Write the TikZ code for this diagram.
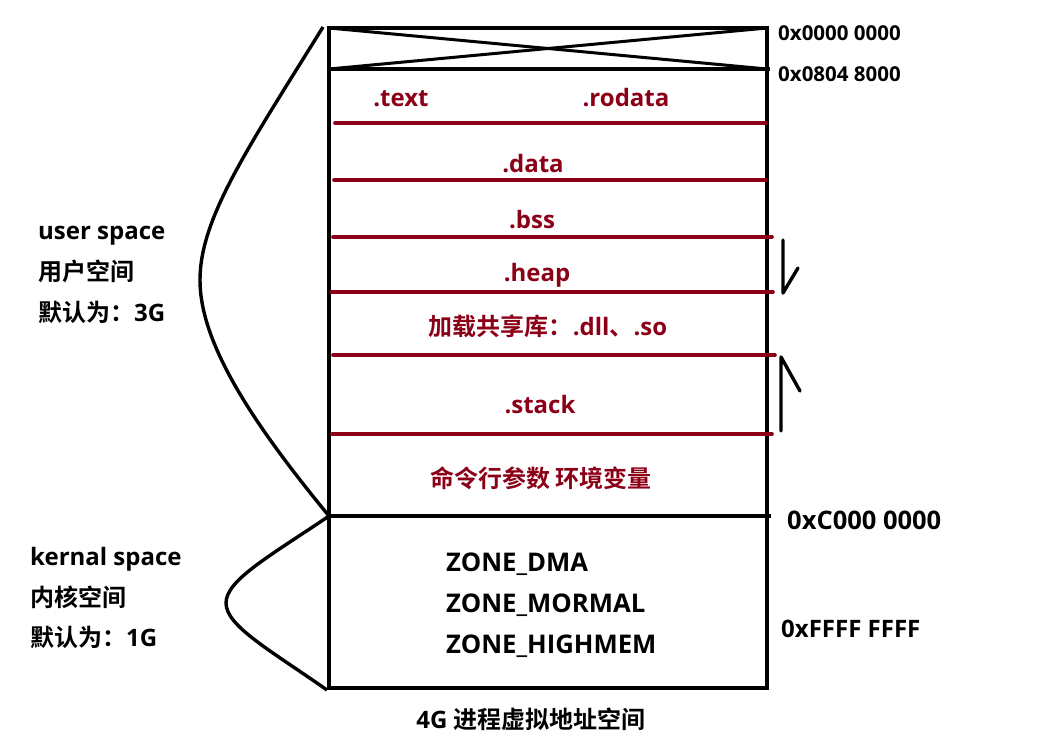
\documentclass[tikz,border=0pt]{standalone}
\usepackage{fontspec}
\setmainfont{Open Sans}
\newfontfamily\cjk[BoldFont={Noto Sans CJK SC Bold}]{Noto Sans CJK SC}
\definecolor{segred}{HTML}{8B0016}
\begin{document}
\begin{tikzpicture}[x=1pt,y=-1pt,
  blk/.style={line width=3.6pt,black},
  seg/.style={line width=3.6pt,segred,line cap=round},
  curve/.style={line width=3.4pt,black},
  redlbl/.style={text=segred,font=\bfseries\fontsize{24}{26}\selectfont,inner sep=0pt,anchor=base},
  blklbl/.style={text=black,font=\bfseries\fontsize{24}{26}\selectfont,inner sep=0pt,anchor=base west},
  zonelbl/.style={text=black,font=\bfseries\fontsize{25.7}{28}\selectfont,inner sep=0pt,anchor=base west},
  addr/.style={text=black,font=\bfseries\fontsize{20.5}{22}\selectfont,inner sep=0pt,anchor=base west}]
\useasboundingbox (0,0) rectangle (1046,737);
% box corners
\coordinate (tl) at (329,28);
\coordinate (tr) at (767,28);
\coordinate (bl) at (329,688);
\coordinate (br) at (767,688);
\coordinate (cl) at (329,69);
\coordinate (cr) at (767,69);
% main box
\draw[blk] (tl) rectangle (br);
\draw[blk] (cl) -- (770,69);
\draw[line width=3pt] (tl) -- (cr);
\draw[line width=3pt] (cl) -- (tr);
% section lines
\draw[seg] (335,123) -- (766,123);
\draw[seg] (334,180) -- (766,180);
\draw[seg] (333,237) -- (772,237);
\draw[seg] (331,292) -- (773,292);
\draw[seg] (333,355) -- (775,355);
\draw[seg] (332,434) -- (772,434);
\coordinate (kl) at (329,516);
\draw[blk] (kl) -- (771,516);
% labels in box
\node[redlbl] (text) at (401,106) {.text};
\node[redlbl] (rodata) at (626,106) {.rodata};
\node[redlbl] (data) at (533,172) {.data};
\node[redlbl] (bss) at (532,228) {.bss};
\node[redlbl] (heap) at (537,281) {.heap};
\node[redlbl] (shlib) at (548,335) {{\cjk\bfseries 加载共享库：}.dll{\cjk\bfseries 、}.so};
\node[redlbl] (stack) at (540,413) {.stack};
\node[redlbl] (env) at (541,487) {{\cjk\bfseries 命令行参数 环境变量}};
\node[zonelbl] (zdma) at (446,571) {ZONE\_DMA};
\node[zonelbl] (znorm) at (446,612) {ZONE\_MORMAL};
\node[zonelbl] (zhigh) at (446,653) {ZONE\_HIGHMEM};
% addresses
\node[addr] (a0) at (778,40) {0x0000 0000};
\node[addr] (a1) at (778,81) {0x0804 8000};
\node[addr,font=\bfseries\fontsize{25.5}{27}\selectfont] (a2) at (787,529) {0xC000 0000};
\node[addr,font=\bfseries\fontsize{24}{26}\selectfont] (a3) at (781,637) {0xFFFF FFFF};
% left labels
\node[blklbl] (us1) at (38,239) {user space};
\node[blklbl] (us2) at (38,280) {{\cjk\bfseries 用户空间}};
\node[blklbl] (us3) at (38,321) {{\cjk\bfseries 默认为：}3G};
\node[blklbl] (ks1) at (30,565) {kernal space};
\node[blklbl] (ks2) at (30,606) {{\cjk\bfseries 内核空间}};
\node[blklbl] (ks3) at (30,646) {{\cjk\bfseries 默认为：}1G};
% bottom title
\node[text=black,font=\bfseries\fontsize{24}{26}\selectfont,inner sep=0pt,anchor=base] (title) at (531,728) {4G {\cjk\bfseries 进程虚拟地址空间}};
% braces
\draw[curve] (323,27) .. controls (248,148) and (200,218) .. (200,280) .. controls (200,342) and (250,420) .. (kl);
\draw[curve] (kl) .. controls (270,556) and (226,580) .. (226,603) .. controls (226,626) and (270,650) .. (327,690);
% arrows
\draw[line width=3.4pt,line cap=round,line join=round] (783,240) -- (783,293) -- (798,268);
\draw[line width=3.4pt,line cap=round,line join=round] (781,431) -- (781,357) -- (800,391);
\end{tikzpicture}
\end{document}
